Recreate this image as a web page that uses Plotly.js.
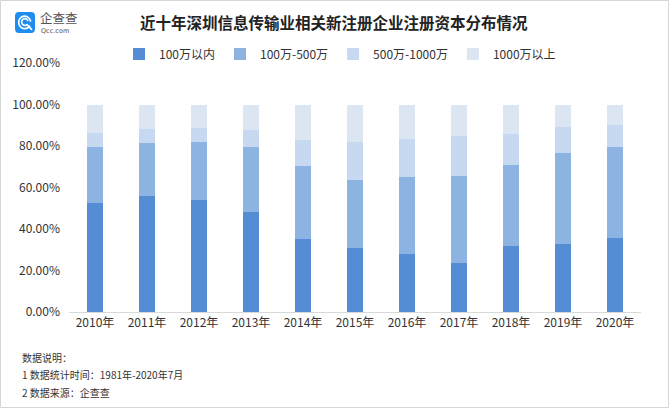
<!DOCTYPE html>
<html>
<head>
<meta charset="utf-8">
<script src="https://cdn.plot.ly/plotly-3.0.1.min.js"></script>
<style>
html,body{margin:0;padding:0;background:#fff;}
#chart{width:669px;height:408px;}
</style>
</head>
<body>
<div id="chart"></div>
<script>
// ---- data (percent of newly registered companies, by registered capital) ----
var years = ["2010年","2011年","2012年","2013年","2014年","2015年","2016年","2017年","2018年","2019年","2020年"];
var seriesNames = ["100万以内","100万-500万","500万-1000万","1000万以上"];
var under100 = [52.4, 55.9, 54.0, 48.2, 35.0, 30.8, 28.0, 23.5, 31.8, 32.8, 35.7];
var from100to500 = [27.0, 25.4, 27.9, 31.5, 35.4, 32.8, 36.9, 42.0, 38.9, 43.7, 44.0];
var from500to1000 = [7.0, 6.7, 6.8, 8.0, 12.5, 18.3, 18.3, 19.3, 15.1, 12.5, 10.6];
var over1000 = [13.6, 12.0, 11.3, 12.3, 17.1, 18.1, 16.8, 15.2, 14.2, 11.0, 9.7];
var yTicks = [0, 20, 40, 60, 80, 100, 120];
var yTickLabels = ["0.00%", "20.00%", "40.00%", "60.00%", "80.00%", "100.00%", "120.00%"];
var titleText = "近十年深圳信息传输业相关新注册企业注册资本分布情况";
var noteLines = ["数据说明：", "1 数据统计时间：1981年-2020年7月", "2 数据来源：企查查"];

var colors = ["#548DD4", "#8DB3E2", "#C6D9F1", "#DCE6F2"];
var values = [under100, from100to500, from500to1000, over1000];
var FONT = "'Noto Sans CJK SC', 'Noto Sans', sans-serif";

var W = 669, H = 408, L = 69, R = 28, T = 63, B = 96;
var pw = W - L - R, ph = H - T - B;
function px2x(p){ return (p - L) / pw; }
function py2y(p){ return (H - B - p) / ph; }

var traces = values.map(function(v, i){
  return {
    type: "bar",
    name: seriesNames[i],
    x: years,
    y: v,
    width: 0.31,
    marker: {color: colors[i], line: {width: 0}},
    hoverinfo: "skip"
  };
});

var iconSvg = '<svg xmlns="http://www.w3.org/2000/svg" width="40" height="40" viewBox="0 0 40 40">' +
  '<rect x="0" y="0" width="40" height="40" rx="8" ry="8" fill="#1f8cf0"/>' +
  '<path d="M29 27 A12 12 0 1 1 31 17" fill="none" stroke="#fff" stroke-width="3.4" stroke-linecap="round"/>' +
  '<path d="M24 24 A6.5 6.5 0 1 1 25.5 16" fill="none" stroke="#fff" stroke-width="3.2" stroke-linecap="round"/>' +
  '<path d="M25 25 L33 33" stroke="#fff" stroke-width="3.4" stroke-linecap="round"/>' +
  '</svg>';
var iconSrc = "data:image/svg+xml;charset=utf-8," + encodeURIComponent(iconSvg);

var annotations = [
  {text: titleText, xref: "paper", yref: "paper", x: px2x(334), y: py2y(22), xanchor: "center", yanchor: "middle",
   showarrow: false, font: {family: FONT, size: 15.5, color: "#222", weight: "bold"}},
  {text: "企查查", xref: "paper", yref: "paper", x: px2x(39), y: py2y(18), xanchor: "left", yanchor: "middle",
   showarrow: false, borderpad: 0, font: {family: FONT, size: 12.5, color: "#555"}},
  {text: "Qcc.com", xref: "paper", yref: "paper", x: px2x(39.5), y: py2y(31), xanchor: "left", yanchor: "middle",
   showarrow: false, borderpad: 0, font: {family: "'DejaVu Sans', sans-serif", size: 6.5, color: "#555"}}
];
var noteY = [357, 374, 392];
noteLines.forEach(function(t, i){
  annotations.push({text: t, xref: "paper", yref: "paper", x: px2x(20), y: py2y(noteY[i]), xanchor: "left", yanchor: "middle",
    showarrow: false, font: {family: FONT, size: 10, color: "#333"}});
});

var layout = {
  width: W, height: H,
  margin: {l: L, r: R, t: T, b: B, pad: 0},
  paper_bgcolor: "#fff", plot_bgcolor: "#fff",
  barmode: "stack",
  showlegend: true,
  legend: {orientation: "h", x: px2x(119), y: py2y(54), xanchor: "left", yanchor: "middle",
           font: {family: FONT, size: 12, color: "#333"}, bgcolor: "rgba(0,0,0,0)", traceorder: "normal"},
  font: {family: FONT, size: 12, color: "#333"},
  xaxis: {type: "category", showgrid: false, zeroline: false, showline: true, linecolor: "#d9d9d9", linewidth: 1,
          ticks: "", tickfont: {family: FONT, size: 12, color: "#333"}, automargin: false},
  yaxis: {range: [0, 120], tickmode: "array", tickvals: yTicks, ticktext: yTickLabels, showgrid: false, zeroline: false,
          showline: false, ticks: "", ticklabelstandoff: 8, tickfont: {family: FONT, size: 12, color: "#333"}, automargin: false},
  images: [{source: iconSrc, xref: "paper", yref: "paper", x: px2x(15), y: py2y(12), sizex: 20 / pw, sizey: 21 / ph,
            xanchor: "left", yanchor: "top", sizing: "stretch", layer: "above"}],
  shapes: [{type: "rect", xref: "paper", yref: "paper", x0: px2x(0.5), x1: px2x(668.5), y0: py2y(407.5), y1: py2y(0.5),
            line: {color: "#d6d6d6", width: 1}, fillcolor: "rgba(0,0,0,0)", layer: "below"}],
  annotations: annotations
};

Plotly.newPlot("chart", traces, layout, {displayModeBar: false, staticPlot: true});
</script>
</body>
</html>
